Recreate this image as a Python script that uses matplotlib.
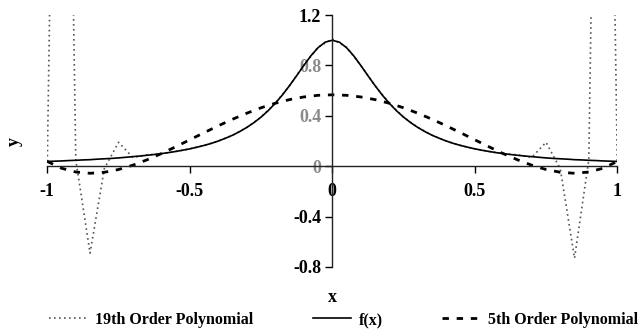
import matplotlib
matplotlib.use("Agg")
import matplotlib.pyplot as plt

# Sample grid for the two interpolating polynomials
x_poly = [-1.0, -0.95, -0.9, -0.85, -0.8, -0.75, -0.7, -0.65, -0.6, -0.55, -0.5,
          -0.45, -0.4, -0.35, -0.3, -0.25, -0.2, -0.15, -0.1, -0.05, 0.0,
          0.05, 0.1, 0.15, 0.2, 0.25, 0.3, 0.35, 0.4, 0.45, 0.5,
          0.55, 0.6, 0.65, 0.7, 0.75, 0.8, 0.85, 0.9, 0.95, 1.0]

# 19th order polynomial (runs off the top of the chart near both ends)
y_p19 = [0.038, 7.3, 0.05, -0.69, -0.02, 0.19, 0.07, 0.09, 0.10, 0.117, 0.138,
         0.165, 0.200, 0.246, 0.308, 0.390, 0.500, 0.640, 0.800, 0.945, 1.010,
         0.945, 0.800, 0.640, 0.500, 0.390, 0.308, 0.246, 0.200, 0.165, 0.138,
         0.117, 0.10, 0.09, 0.07, 0.19, -0.02, -0.73, 0.05, 7.3, 0.038]

# 5th order polynomial
y_p5 = [0.038, -0.016, -0.046, -0.056, -0.048, -0.026, 0.008, 0.051, 0.100, 0.154, 0.210,
        0.266, 0.321, 0.373, 0.421, 0.464, 0.500, 0.529, 0.550, 0.563, 0.567,
        0.563, 0.550, 0.529, 0.500, 0.464, 0.421, 0.373, 0.321, 0.266, 0.210,
        0.154, 0.100, 0.051, 0.008, -0.026, -0.048, -0.056, -0.046, -0.016, 0.038]

# f(x) on a finer grid
x_f = [-1.0, -0.975, -0.95, -0.925, -0.9, -0.875, -0.85, -0.825, -0.8, -0.775,
       -0.75, -0.725, -0.7, -0.675, -0.65, -0.625, -0.6, -0.575, -0.55, -0.525,
       -0.5, -0.475, -0.45, -0.425, -0.4, -0.375, -0.35, -0.325, -0.3, -0.275,
       -0.25, -0.225, -0.2, -0.175, -0.15, -0.125, -0.1, -0.075, -0.05, -0.025,
       0.0, 0.025, 0.05, 0.075, 0.1, 0.125, 0.15, 0.175, 0.2, 0.225,
       0.25, 0.275, 0.3, 0.325, 0.35, 0.375, 0.4, 0.425, 0.45, 0.475,
       0.5, 0.525, 0.55, 0.575, 0.6, 0.625, 0.65, 0.675, 0.7, 0.725,
       0.75, 0.775, 0.8, 0.825, 0.85, 0.875, 0.9, 0.925, 0.95, 0.975, 1.0]
y_f = [0.038, 0.040, 0.042, 0.045, 0.047, 0.050, 0.052, 0.056, 0.059, 0.062,
       0.066, 0.071, 0.076, 0.081, 0.087, 0.093, 0.100, 0.108, 0.117, 0.127,
       0.138, 0.151, 0.165, 0.181, 0.200, 0.222, 0.246, 0.275, 0.308, 0.346,
       0.390, 0.441, 0.500, 0.566, 0.640, 0.719, 0.800, 0.877, 0.941, 0.985,
       1.000, 0.985, 0.941, 0.877, 0.800, 0.719, 0.640, 0.566, 0.500, 0.441,
       0.390, 0.346, 0.308, 0.275, 0.246, 0.222, 0.200, 0.181, 0.165, 0.151,
       0.138, 0.127, 0.117, 0.108, 0.100, 0.093, 0.087, 0.081, 0.076, 0.071,
       0.066, 0.062, 0.059, 0.056, 0.052, 0.050, 0.047, 0.045, 0.042, 0.040, 0.038]

x_ticks = [-1, -0.5, 0, 0.5, 1]
x_tick_labels = ["-1", "-0.5", "0", "0.5", "1"]
y_ticks = [-0.8, -0.4, 0, 0.4, 0.8, 1.2]
y_tick_labels = ["-0.8", "-0.4", "0", "0.4", "0.8", "1.2"]

serif = ["Liberation Serif", "DejaVu Serif"]
plt.rcParams["font.family"] = serif

fig = plt.figure(figsize=(6.4, 3.35), dpi=100)
ax = fig.add_axes([0.0739, 0.203, 0.8906, 0.752])

l19, = ax.plot(x_poly, y_p19, color="#555555", lw=1.2, ls=(0, (1, 2)),
               label="19th Order Polynomial")
lf, = ax.plot(x_f, y_f, color="black", lw=1.2, label="f(x)")
l5, = ax.plot(x_poly, y_p5, color="black", lw=2.0, ls=(0, (2.3, 2.8)),
              label="5th Order Polynomial")

ax.set_xlim(-1, 1)
ax.set_ylim(-0.8, 1.2)

for side in ("top", "right"):
    ax.spines[side].set_visible(False)
ax.spines["left"].set_position(("data", 0))
ax.spines["bottom"].set_position(("data", 0))
for side in ("left", "bottom"):
    ax.spines[side].set_linewidth(1.0)
    ax.spines[side].set_color("#222222")

ax.set_xticks(x_ticks)
ax.set_xticklabels(x_tick_labels, fontsize=13, fontweight="bold")
ax.set_yticks(y_ticks)
ax.set_yticklabels(y_tick_labels, fontsize=13, fontweight="bold")
ax.tick_params(axis="x", direction="out", length=5, width=1, pad=7)
ax.tick_params(axis="y", direction="out", length=5, width=1, pad=3)
for lab in ax.get_yticklabels():
    if lab.get_text() in ("0", "0.4", "0.8"):
        lab.set_color("#8a8a8a")

fig.text(0.519, 0.113, "x", ha="center", va="center", fontsize=13,
         fontweight="bold")
fig.text(0.022, 0.578, "y", ha="center", va="center", fontsize=13,
         fontweight="bold", rotation=90)

fig.legend(handles=[l19, lf, l5], loc="center", bbox_to_anchor=(0.537, 0.045),
           ncol=3, frameon=False, prop={"family": serif, "weight": "bold", "size": 11.5},
           handlelength=2.4, handletextpad=0.5, columnspacing=3.7)

fig.savefig("out.png", dpi=100)
